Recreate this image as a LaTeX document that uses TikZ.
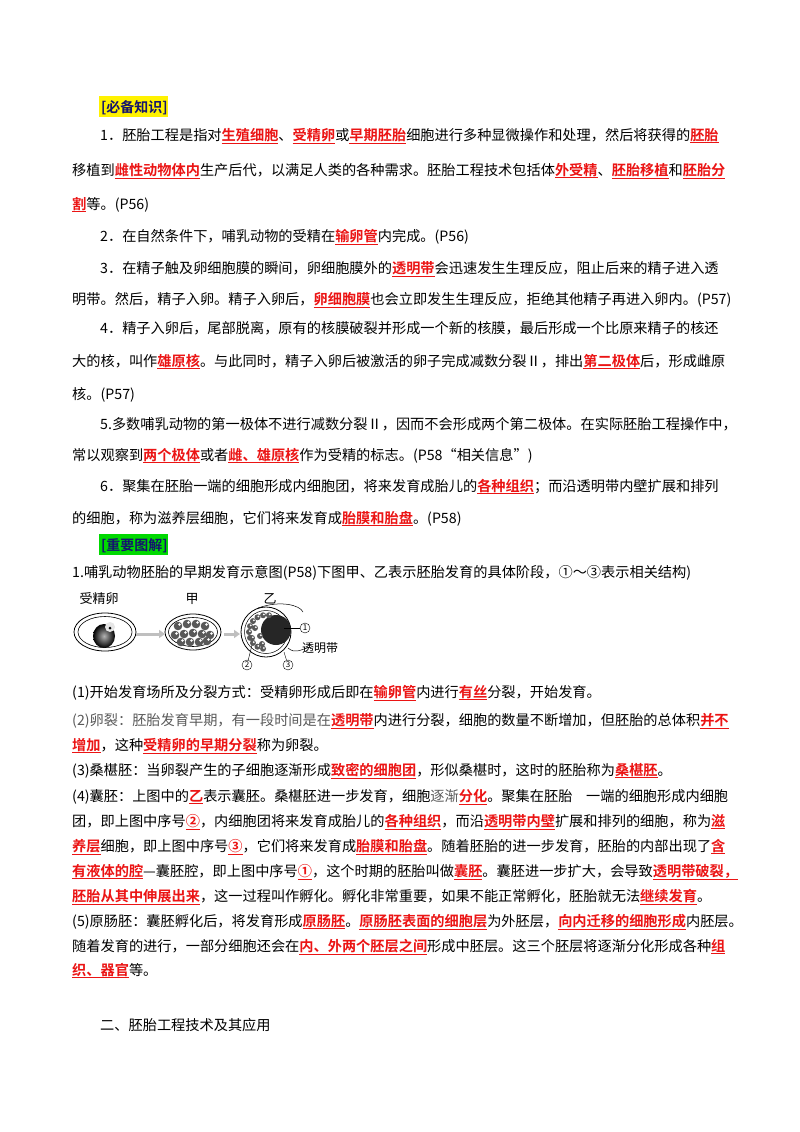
\documentclass[tikz,border=0pt]{standalone}
\usepackage{fontspec}
\setmainfont{Noto Sans CJK SC}[BoldFont={* Bold}]
\XeTeXlinebreaklocale "zh"
\XeTeXlinebreakskip=0pt plus 3pt minus 1pt
\usetikzlibrary{arrows.meta,calc}
\definecolor{hlred}{RGB}{235,20,20}
\definecolor{navy}{RGB}{20,20,110}
\definecolor{gtx}{RGB}{90,90,90}
\newcommand{\hl}[1]{\textcolor{hlred}{\bfseries\underline{#1}}}
\newcommand{\gt}[1]{\textcolor{gtx}{#1}}
\newcommand{\fa}[1]{\makebox[628pt][s]{#1}}
\newcommand{\fb}[1]{\makebox[656pt][s]{#1}}
\tikzset{txt/.style={anchor=base west,inner sep=0pt,font=\fontsize{14.2}{16}\selectfont},
 hd/.style={anchor=base west,inner sep=1pt,font=\fontsize{14}{16}\selectfont\bfseries,text=navy},
 lab/.style={anchor=base,inner sep=0pt,font=\fontsize{13}{15}\selectfont},
 num/.style={circle,draw,inner sep=0pt,minimum size=10pt,font=\fontsize{8}{9}\selectfont},
 garr/.style={line width=3pt,gray!50,-{Triangle[length=6pt,width=8pt]}}}
\begin{document}
\begin{tikzpicture}[x=1pt,y=-1pt]
\useasboundingbox (0,0) rectangle (800,1132);
\fill[white] (0,0) rectangle (800,1132);
\fill[yellow] (99,96) rectangle (168,117);
\node[hd] (h1) at (100,112) {[必备知识]};
\node[txt] (l1) at (100,140) {\fa{1．胚胎工程是指对\hl{生殖细胞}、\hl{受精卵}或\hl{早期胚胎}细胞进行多种显微操作和处理，然后将获得的\hl{胚胎}}};
\node[txt] (l2) at (72,175) {\fb{移植到\hl{雌性动物体内}生产后代，以满足人类的各种需求。胚胎工程技术包括体\hl{外受精}、\hl{胚胎移植}和\hl{胚胎分}}};
\node[txt] (l3) at (72,209) {\hl{割}等。(P56)};
\node[txt] (l4) at (100,241) {2．在自然条件下，哺乳动物的受精在\hl{输卵管}内完成。(P56)};
\node[txt] (l5) at (100,273) {\fa{3．在精子触及卵细胞膜的瞬间，卵细胞膜外的\hl{透明带}会迅速发生生理反应，阻止后来的精子进入透}};
\node[txt] (l6) at (72,304) {明带。然后，精子入卵。精子入卵后，\hl{卵细胞膜}也会立即发生生理反应，拒绝其他精子再进入卵内。(P57)};
\node[txt] (l7) at (100,333) {\fa{4．精子入卵后，尾部脱离，原有的核膜破裂并形成一个新的核膜，最后形成一个比原来精子的核还}};
\node[txt] (l8) at (72,366) {\fb{大的核，叫作\hl{雄原核}。与此同时，精子入卵后被激活的卵子完成减数分裂Ⅱ，排出\hl{第二极体}后，形成雌原}};
\node[txt] (l9) at (72,399) {核。(P57)};
\node[txt] (l10) at (100,429) {\fa{5.多数哺乳动物的第一极体不进行减数分裂Ⅱ，因而不会形成两个第二极体。在实际胚胎工程操作中，}};
\node[txt] (l11) at (72,460) {常以观察到\hl{两个极体}或者\hl{雌、雄原核}作为受精的标志。(P58“相关信息”)};
\node[txt] (l12) at (100,491) {\fa{6．聚集在胚胎一端的细胞形成内细胞团，将来发育成胎儿的\hl{各种组织}；而沿透明带内壁扩展和排列}};
\node[txt] (l13) at (72,523) {的细胞，称为滋养层细胞，它们将来发育成\hl{胎膜和胎盘}。(P58)};
\fill[green!85!black] (99,534) rectangle (168,555);
\node[hd] (h2) at (100,550) {[重要图解]};
\node[txt] (l14) at (72,577) {1.哺乳动物胚胎的早期发育示意图(P58)下图甲、乙表示胚胎发育的具体阶段，①～③表示相关结构)};
% figure
\node[lab] (t1) at (99,603) {受精卵};
\node[lab] (t2) at (192,603) {甲};
\node[lab] (t3) at (270,603) {乙};
\draw[line width=0.8pt] (105,632) ellipse (31 and 19);
\draw[line width=0.6pt] (105,632) ellipse (27 and 15.5);
\shade[inner color=gray!60,outer color=black] (104,636) ellipse (11 and 12);
\fill[white!80!gray] (110,627) circle (5);
\fill[black] (110,628) circle (1.5);
\draw[line width=0.8pt] (193,632) ellipse (28 and 18);
\draw[line width=0.6pt] (193,632) ellipse (24.5 and 14.5);
\foreach \x/\y in {178/626,187/624,196/624,205/626,175/635,184/634,193/633,202/634,210/635,181/642,190/642,199/642,207/641}
  {\fill[gray!70!black] (\x,\y) circle (4.3); \fill[white] (\x+1.5,\y-1.5) circle (1.4);}
\draw[garr] (136,634) -- (165,634);
\draw[garr] (224,634) -- (240,634);
\draw[line width=0.8pt] (266,632) circle (25);
\draw[line width=0.5pt] (266,632) circle (21.5);
\fill[black!85] (276,630) circle (15);
\foreach \a in {100,120,...,280}
  {\fill[gray!70!black] ($(266,632)+(\a:17)$) circle (3); \fill[white] ($(266,632)+(\a:17)+(0.8,-0.8)$) circle (1);}
\foreach \x/\y in {255/628,260/636,252/638,262/644}
  {\fill[gray!70!black] (\x,\y) circle (3); \fill[white] (\x+0.8,\y-0.8) circle (1);}
\draw[line width=0.5pt] (258,608) .. controls (280,600) and (300,605) .. (303,612);
\draw[line width=0.5pt] (288,648) .. controls (295,654) and (300,650) .. (310,647);
\node[num] (n1) at (305,628) {1};
\node[num] (n2) at (247,665) {2};
\node[num] (n3) at (288,665) {3};
\node[anchor=west,inner sep=0pt,font=\fontsize{12}{14}\selectfont] (tm) at (302,648) {透明带};
\draw[line width=0.4pt] (n1) -- (284,628);
\draw[line width=0.4pt] (n2) -- (252,645);
\draw[line width=0.4pt] (n3) -- (284,652);
% section
\node[txt] (s1) at (72,697) {(1)开始发育场所及分裂方式：受精卵形成后即在\hl{输卵管}内进行\hl{有丝}分裂，开始发育。};
\node[txt] (s2) at (72,725) {\fb{\gt{(2)卵裂：胚胎发育早期，有一段时间是在}\hl{透明带}内进行分裂，细胞的数量不断增加，但胚胎的总体积\hl{并不}}};
\node[txt] (s3) at (72,750) {\hl{增加}，这种\hl{受精卵的早期分裂}称为卵裂。};
\node[txt] (s4) at (72,775) {(3)桑椹胚：当卵裂产生的子细胞逐渐形成\hl{致密的细胞团}，形似桑椹时，这时的胚胎称为\hl{桑椹胚}。};
\node[txt] (s5) at (72,801) {\fb{(4)囊胚：上图中的\hl{乙}表示囊胚。桑椹胚进一步发育，细胞\gt{逐渐}\hl{分化}。聚集在胚胎 一端的细胞形成内细胞}};
\node[txt] (s6) at (72,826) {\fb{团，即上图中序号\hl{②}，内细胞团将来发育成胎儿的\hl{各种组织}，而沿\hl{透明带内壁}扩展和排列的细胞，称为\hl{滋}}};
\node[txt] (s7) at (72,851) {\fb{\hl{养层}细胞，即上图中序号\hl{③}，它们将来发育成\hl{胎膜和胎盘}。随着胚胎的进一步发育，胚胎的内部出现了\hl{含}}};
\node[txt] (s8) at (72,876) {\fb{\hl{有液体的腔}—囊胚腔，即上图中序号\hl{①}，这个时期的胚胎叫做\hl{囊胚}。囊胚进一步扩大，会导致\hl{透明带破裂，}}};
\node[txt] (s9) at (72,901) {\hl{胚胎从其中伸展出来}，这一过程叫作孵化。孵化非常重要，如果不能正常孵化，胚胎就无法\hl{继续发育}。};
\node[txt] (s10) at (72,926) {\fb{(5)原肠胚：囊胚孵化后，将发育形成\hl{原肠胚}。\hl{原肠胚表面的细胞层}为外胚层，\hl{向内迁移的细胞形成}内胚层。}};
\node[txt] (s11) at (72,951) {\fb{随着发育的进行，一部分细胞还会在\hl{内、外两个胚层之间}形成中胚层。这三个胚层将逐渐分化形成各种\hl{组}}};
\node[txt] (s12) at (72,975) {\hl{织、器官}等。};
\node[txt] (s13) at (100,1030) {二、胚胎工程技术及其应用};
\end{tikzpicture}
\end{document}
